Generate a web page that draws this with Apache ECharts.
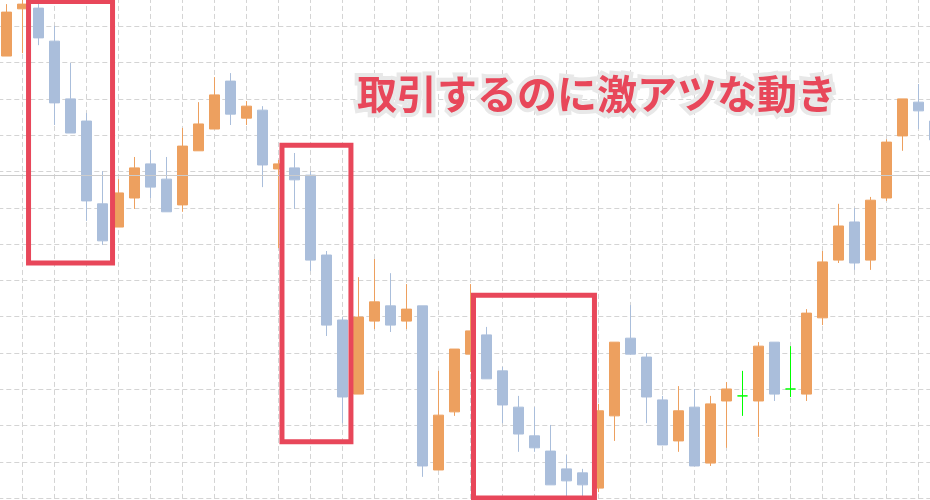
<!DOCTYPE html>
<html>
<head>
<meta charset="utf-8">
<script src="https://cdn.jsdelivr.net/npm/echarts@6/dist/echarts.min.js"></script>
<style>
html,body{margin:0;padding:0;background:#ffffff;}
#chart{width:930px;height:500px;}
</style>
</head>
<body>
<div id="chart"></div>
<script>
// Category slots: slot '0' is an empty padding slot, candles occupy '1'..'59'
const categories = ['0','1','2','3','4','5','6','7','8','9','10','11','12','13','14','15','16','17','18','19',
  '20','21','22','23','24','25','26','27','28','29','30','31','32','33','34','35','36','37','38','39',
  '40','41','42','43','44','45','46','47','48','49','50','51','52','53','54','55','56','57','58','59'];

const openValues = [121.8,134.8,135.0,125.9,110.0,103.9,81.1,74.7,82.7,92.1,
  87.9,80.8,95.7,101.7,114.9,104.7,106.9,90.7,91.0,89.0,
  67.0,49.1,28.7,48.8,53.0,48.8,53.0,7.8,23.8,39.7,
  45.0,35.1,25.1,17.2,13.0,8.1,7.0,2.8,22.7,44.1,
  38.9,27.1,15.8,25.1,9.7,26.8,28.2,26.8,43.0,30.1,
  28.7,49.7,65.6,76.1,65.6,82.7,99.8,109.1,103.9];

const closeValues = [133.9,136.1,126.8,108.9,100.6,81.9,70.9,84.1,91.0,85.7,
  78.9,97.0,103.1,111.1,105.8,108.0,91.8,92.1,87.7,65.6,
  47.7,27.9,49.9,54.1,47.7,52.1,8.9,22.9,41.1,46.1,
  32.9,25.7,17.7,13.9,3.7,4.8,3.7,24.1,43.0,39.7,
  27.9,14.7,24.1,8.9,26.0,30.1,28.2,41.9,28.7,30.1,
  51.0,65.1,75.0,64.8,82.1,98.1,110.0,106.7,98.7];

const lowValues = [121.8,122.6,124.8,102.8,100.6,76.4,69.8,74.7,79.7,82.7,
  78.9,78.9,95.7,101.7,102.8,102.8,85.7,68.9,79.7,62.6,
  44.7,20.7,28.7,46.6,45.8,46.6,5.9,7.8,22.7,34.8,
  32.9,20.7,12.8,12.8,3.7,-0.5,0.1,1.7,15.8,39.7,
  20.7,14.7,12.8,8.9,8.9,13.9,22.7,16.9,26.8,27.9,
  26.8,47.7,64.8,62.9,62.9,81.9,95.7,101.7,97.3];

const highValues = [136.1,137.8,136.7,130.1,119.9,106.1,90.1,87.9,94.0,95.9,
  94.0,102.0,109.1,116.0,117.1,109.4,108.0,93.2,95.1,90.1,
  68.1,49.9,60.9,65.9,62.0,59.0,53.0,35.1,41.1,59.0,
  47.2,36.2,28.2,25.1,20.2,11.9,8.1,26.0,43.0,53.2,
  40.0,28.2,30.9,30.1,28.2,32.0,35.1,43.0,43.0,41.9,
  52.1,68.1,81.1,79.9,83.0,98.9,110.0,114.1,104.7];

const referenceLevel = 89.0;

// Highlight boxes in data units: [candle index start, candle index end, top value, bottom value]
const highlightBoxes = [
  [1.39, 6.64, 136.8, 64.8],
  [17.23, 21.54, 97.2, 15.6],
  [29.20, 36.76, 55.9, 0.1]
];

const headline = '取引するのに激アツな動き';

const UP = '#eda05f';
const DOWN = '#aabedb';
const ACCENT = '#e8475a';

const candleData = [['-','-','-','-']].concat(
  openValues.map((o, i) => [o, closeValues[i], lowValues[i], highValues[i]])
);

const chart = echarts.init(document.getElementById('chart'), null, {renderer: 'canvas'});

const gridLine = {show: true, lineStyle: {color: '#d4d4d4', width: 1, type: [5, 3]}};

chart.setOption({
  animation: false,
  backgroundColor: '#ffffff',
  grid: {left: -9.7, right: -4.3, top: -10.04, bottom: -34.6, containLabel: false, outerBoundsMode: 'none'},
  xAxis: {
    type: 'category',
    data: categories,
    boundaryGap: false,
    axisLine: {show: false},
    axisTick: {show: false},
    axisLabel: {show: false},
    splitLine: Object.assign({interval: 1}, gridLine)
  },
  yAxis: {
    type: 'value',
    min: -10,
    max: 140,
    interval: 10,
    axisLine: {show: false},
    axisTick: {show: false},
    axisLabel: {show: false},
    splitLine: gridLine
  },
  series: [
    {
      type: 'line',
      data: [],
      z: 1,
      silent: true,
      markLine: {
        silent: true,
        symbol: 'none',
        label: {show: false},
        lineStyle: {type: 'solid', color: '#cccccc', width: 1},
        data: [{yAxis: referenceLevel}]
      }
    },
    {
      type: 'candlestick',
      z: 3,
      barWidth: 10,
      data: candleData,
      itemStyle: {
        color: UP,
        color0: DOWN,
        borderColor: UP,
        borderColor0: DOWN,
        borderColorDoji: '#00ff00',
        borderWidth: 1
      }
    }
  ]
});

// Build annotation boxes from data coordinates
const px0 = chart.convertToPixel({gridIndex: 0}, [1, 0])[0];
const step = chart.convertToPixel({gridIndex: 0}, [2, 0])[0] - px0;
const yPx = v => chart.convertToPixel({gridIndex: 0}, [1, v])[1];

const graphics = highlightBoxes.map(b => {
  const x1 = px0 + b[0] * step, x2 = px0 + b[1] * step;
  const y1 = yPx(b[2]), y2 = yPx(b[3]);
  return {
    type: 'rect',
    z: 100,
    silent: true,
    shape: {x: x1, y: y1, width: x2 - x1, height: y2 - y1},
    style: {fill: 'none', stroke: ACCENT, lineWidth: 5}
  };
});

graphics.push({
  type: 'text',
  z: 110,
  silent: true,
  x: 357,
  y: 94,
  style: {
    text: headline,
    font: 'bold 40px "Noto Sans CJK JP"',
    fill: ACCENT,
    stroke: '#e8e8e8',
    lineWidth: 8,
    strokeFirst: true,
    verticalAlign: 'middle',
    align: 'left'
  }
});

chart.setOption({graphic: graphics});
</script>
</body>
</html>
